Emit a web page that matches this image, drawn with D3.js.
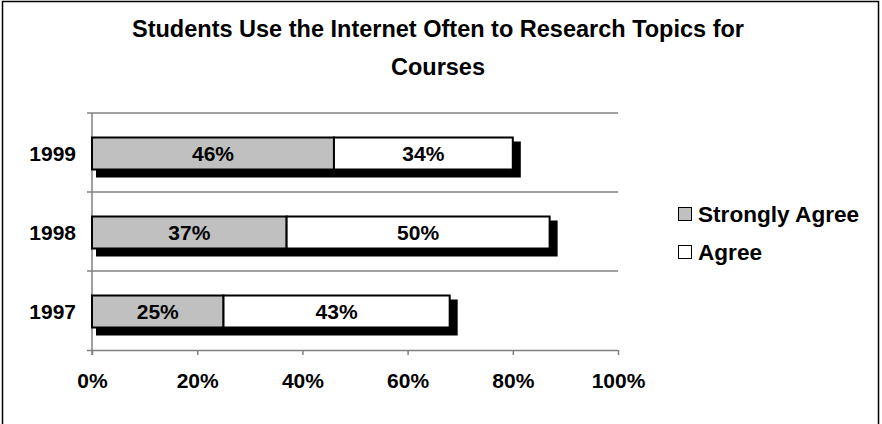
<!DOCTYPE html>
<html>
<head>
<meta charset="utf-8">
<script src="https://cdn.jsdelivr.net/npm/d3@7"></script>
<style>
  html, body { margin: 0; padding: 0; background: #fff; }
  svg text { font-family: "Liberation Sans", Arial, sans-serif; font-weight: bold; fill: #000; }
</style>
</head>
<body>
<svg id="chart" width="882" height="424"></svg>
<script>
// Survey responses by year (percent of students)
const years = ["1999", "1998", "1997"];
const stronglyAgree = [46, 37, 25];
const agree = [34, 50, 43];
const seriesNames = ["Strongly Agree", "Agree"];
const seriesColors = ["#c0c0c0", "#ffffff"];
const xTicks = [0, 20, 40, 60, 80, 100];
const titleLines = ["Students Use the Internet Often to Research Topics for", "Courses"];

const svg = d3.select("#chart");

// Outer frame (runs past the lower edge of the canvas)
svg.append("rect")
  .attr("x", 2.5).attr("y", 1.5)
  .attr("width", 876).attr("height", 440)
  .attr("fill", "#fff").attr("stroke", "#000").attr("stroke-width", 1.5);

// Title
svg.append("g").selectAll("text").data(titleLines).join("text")
  .attr("x", 438).attr("y", (d, i) => 37 + i * 38)
  .attr("text-anchor", "middle")
  .style("font-size", "23.5px")
  .text(d => d);

const plot = { left: 92, right: 618, top: 113, bottom: 350 };

const x = d3.scaleLinear().domain([0, 100]).range([plot.left, plot.right]);
const y = d3.scaleBand().domain(years).range([plot.top, plot.bottom]).paddingInner(0).paddingOuter(0);

// Horizontal gridlines at category boundaries
const boundaries = d3.range(years.length).map(i => plot.top + i * y.step());
svg.append("g").selectAll("line").data(boundaries).join("line")
  .attr("x1", plot.left - 5).attr("x2", plot.right)
  .attr("y1", d => d).attr("y2", d => d)
  .attr("stroke", "#808080").attr("stroke-width", 1.5);

// Value axis
const xAxis = svg.append("g")
  .attr("transform", `translate(0,${plot.bottom})`)
  .call(d3.axisBottom(x).tickValues(xTicks).tickSize(5).tickFormat(d => d + "%"));
xAxis.select(".domain").attr("stroke", "#808080").attr("stroke-width", 1.5)
  .attr("d", `M${plot.left - 5},0.5H${plot.right}`);
xAxis.selectAll(".tick line").attr("stroke", "#808080").attr("stroke-width", 1.5);
xAxis.selectAll(".tick text")
  .attr("y", 31).attr("dy", "0.35em")
  .style("font-size", "21px")
  .style("font-family", "'Liberation Sans', Arial, sans-serif");

// Category axis line
svg.append("line")
  .attr("x1", plot.left).attr("x2", plot.left)
  .attr("y1", plot.top).attr("y2", plot.bottom + 5)
  .attr("stroke", "#808080").attr("stroke-width", 1.5);

// Category labels
svg.append("g").selectAll("text").data(years).join("text")
  .attr("x", 76)
  .attr("y", d => y(d) + y.bandwidth() / 2 + 1)
  .attr("text-anchor", "end")
  .attr("dy", "0.35em")
  .style("font-size", "21px")
  .text(d => d);

// Stacked bars with drop shadows
const barH = 32;
const rows = years.map((yr, i) => ({ yr, a: stronglyAgree[i], b: agree[i] }));
const barY = d => y(d.yr) + y.bandwidth() / 2 - barH / 2 + 1;

const shadow = svg.append("g");
rows.forEach(d => {
  const x0 = x(0), x1 = x(d.a + d.b), y0 = barY(d), y1 = y0 + barH;
  shadow.append("path")
    .attr("d", `M${x0 + 4},${y1}H${x1}V${y0 + 4}H${x1 + 8}V${y1 + 8}H${x0 + 4}Z`)
    .attr("fill", "#000");
});

const segs = [];
rows.forEach(d => {
  segs.push({ yr: d.yr, start: 0, val: d.a, s: 0 });
  segs.push({ yr: d.yr, start: d.a, val: d.b, s: 1 });
});

svg.append("g").selectAll("rect").data(segs).join("rect")
  .attr("x", d => x(d.start))
  .attr("y", d => barY(d))
  .attr("width", d => x(d.start + d.val) - x(d.start))
  .attr("height", barH)
  .attr("fill", d => seriesColors[d.s])
  .attr("stroke", "#000").attr("stroke-width", 2);

svg.append("g").selectAll("text").data(segs).join("text")
  .attr("x", d => x(d.start + d.val / 2))
  .attr("y", d => barY(d) + barH / 2)
  .attr("dy", "0.35em")
  .attr("text-anchor", "middle")
  .style("font-size", "21px")
  .text(d => d.val + "%");

// Legend
const legend = svg.append("g").attr("transform", "translate(678,0)");
const legendY = [214, 252];
seriesNames.forEach((name, i) => {
  legend.append("rect")
    .attr("x", 0.5).attr("y", legendY[i] - 6.5)
    .attr("width", 13).attr("height", 13)
    .attr("fill", seriesColors[i]).attr("stroke", "#000").attr("stroke-width", 1);
  legend.append("text")
    .attr("x", 20).attr("y", legendY[i])
    .attr("dy", "0.35em")
    .style("font-size", "22.6px")
    .text(name);
});
</script>
</body>
</html>
